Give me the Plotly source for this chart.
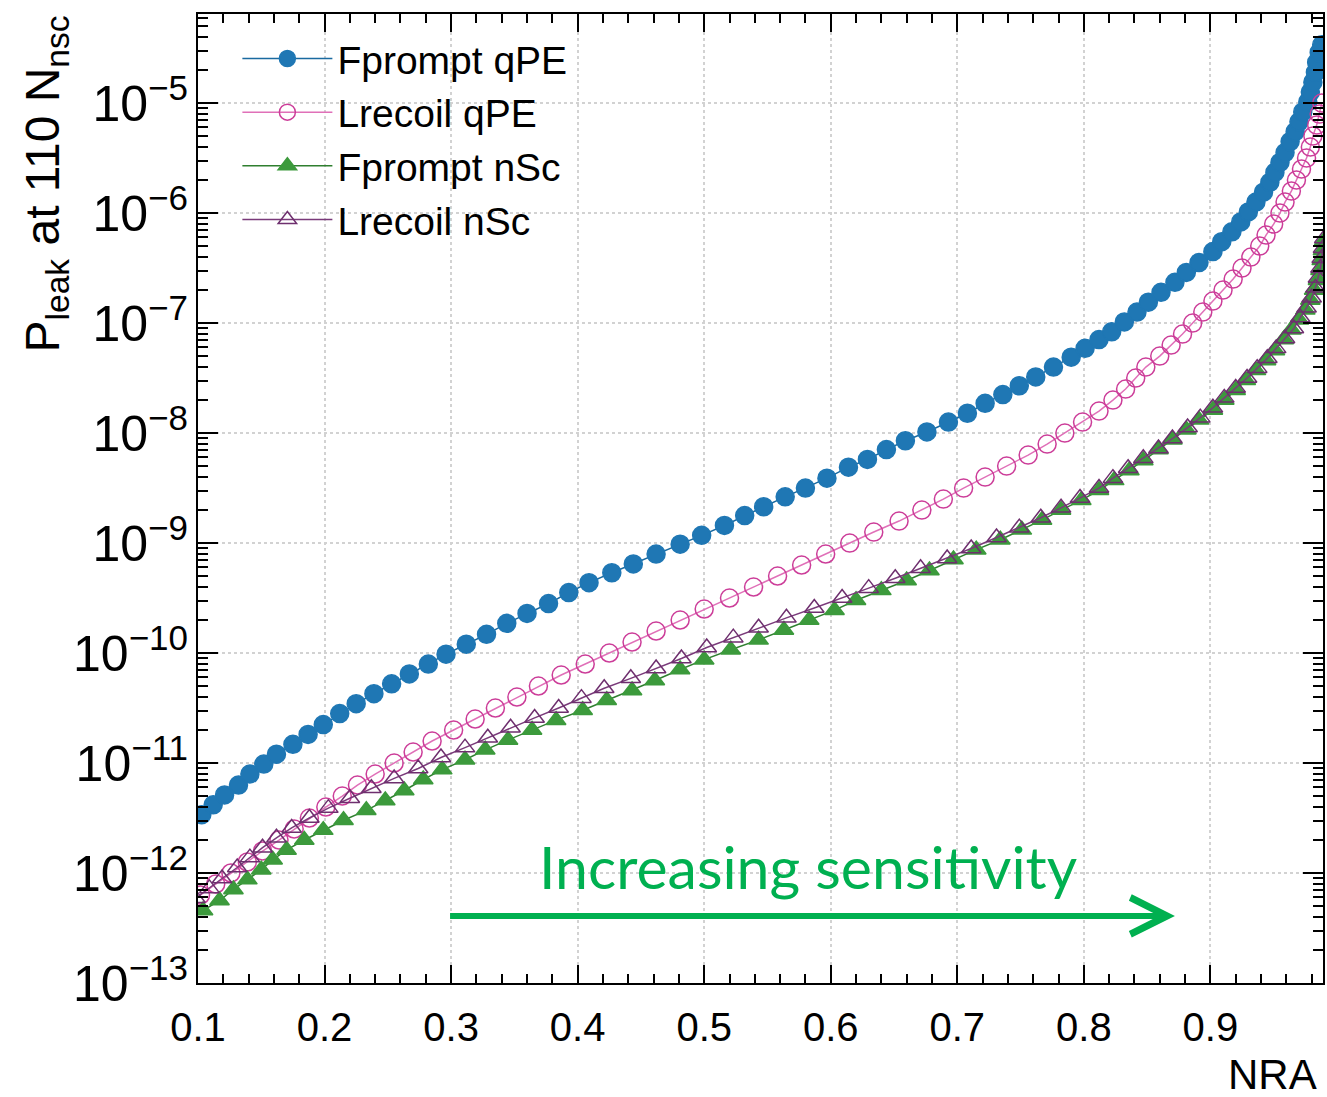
import plotly.graph_objects as go

# ---------------- data ----------------
# Fprompt qPE (filled blue circles): NRA and log10(P_leak)
fprompt_qpe_nra = [
    0.103, 0.112, 0.121, 0.132, 0.141, 0.152, 0.162, 0.175, 0.187, 0.199,
    0.212, 0.225, 0.239, 0.253, 0.267, 0.282, 0.296, 0.312, 0.328, 0.344,
    0.360, 0.377, 0.393, 0.409, 0.427, 0.444, 0.462, 0.481, 0.498, 0.516,
    0.532, 0.547, 0.564, 0.580, 0.597, 0.614, 0.629, 0.644, 0.659, 0.676,
    0.693, 0.708, 0.722, 0.736, 0.749, 0.762, 0.776, 0.790, 0.801, 0.812,
    0.822, 0.832, 0.842, 0.851, 0.861, 0.872, 0.881, 0.891, 0.902, 0.909,
    0.917, 0.924, 0.930, 0.936, 0.942, 0.947, 0.951, 0.955, 0.959, 0.963,
    0.967, 0.970, 0.973, 0.977, 0.979, 0.981, 0.983, 0.984, 0.986, 0.988,
]
fprompt_qpe_log10 = [
    -11.47, -11.38, -11.29, -11.20, -11.10, -11.01, -10.92, -10.83, -10.74, -10.65,
    -10.55, -10.46, -10.37, -10.28, -10.19, -10.10, -10.01, -9.92, -9.83, -9.73,
    -9.64, -9.55, -9.45, -9.36, -9.27, -9.19, -9.10, -9.01, -8.93, -8.84,
    -8.75, -8.67, -8.58, -8.50, -8.41, -8.31, -8.24, -8.15, -8.07, -7.99,
    -7.90, -7.82, -7.73, -7.65, -7.57, -7.49, -7.40, -7.31, -7.23, -7.15,
    -7.08, -6.99, -6.90, -6.81, -6.72, -6.63, -6.54, -6.45, -6.35, -6.26,
    -6.17, -6.08, -5.99, -5.90, -5.81, -5.72, -5.63, -5.54, -5.45, -5.35,
    -5.26, -5.17, -5.08, -4.99, -4.90, -4.81, -4.72, -4.63, -4.54, -4.47,
]

# Lrecoil qPE (open pink circles)
lrecoil_qpe_nra = [
    0.102, 0.114, 0.126, 0.139, 0.151, 0.164, 0.176, 0.188, 0.201, 0.214,
    0.226, 0.240, 0.255, 0.270, 0.285, 0.302, 0.319, 0.335, 0.352, 0.369,
    0.387, 0.406, 0.425, 0.443, 0.462, 0.481, 0.500, 0.520, 0.539, 0.558,
    0.577, 0.596, 0.615, 0.634, 0.654, 0.672, 0.689, 0.705, 0.722, 0.739,
    0.756, 0.771, 0.785, 0.799, 0.812, 0.823, 0.833, 0.841, 0.849, 0.860,
    0.869, 0.878, 0.886, 0.894, 0.902, 0.910, 0.918, 0.925, 0.932, 0.939,
    0.944, 0.950, 0.955, 0.959, 0.964, 0.968, 0.972, 0.976, 0.979, 0.981,
    0.984, 0.986, 0.988,
]
lrecoil_qpe_log10 = [
    -12.20, -12.10, -12.00, -11.90, -11.80, -11.70, -11.60, -11.50, -11.40, -11.30,
    -11.20, -11.10, -11.00, -10.90, -10.80, -10.70, -10.60, -10.50, -10.40, -10.30,
    -10.20, -10.10, -10.00, -9.90, -9.80, -9.70, -9.60, -9.50, -9.40, -9.30,
    -9.20, -9.10, -9.00, -8.90, -8.80, -8.70, -8.60, -8.50, -8.40, -8.30,
    -8.20, -8.10, -8.00, -7.90, -7.80, -7.70, -7.60, -7.50, -7.40, -7.30,
    -7.20, -7.10, -7.00, -6.90, -6.80, -6.70, -6.60, -6.50, -6.40, -6.30,
    -6.20, -6.10, -6.00, -5.90, -5.80, -5.70, -5.60, -5.50, -5.40, -5.30,
    -5.20, -5.10, -5.00,
]

# Fprompt nSc (filled green triangles)
fprompt_nsc_nra = [
    0.104, 0.117, 0.128, 0.139, 0.150, 0.159, 0.170, 0.184, 0.199, 0.215,
    0.233, 0.248, 0.263, 0.278, 0.293, 0.311, 0.327, 0.345, 0.364, 0.383,
    0.404, 0.423, 0.443, 0.461, 0.481, 0.500, 0.521, 0.543, 0.563, 0.583,
    0.603, 0.620, 0.640, 0.660, 0.678, 0.697, 0.715, 0.734, 0.751, 0.767,
    0.782, 0.798, 0.812, 0.824, 0.836, 0.847, 0.859, 0.870, 0.881, 0.891,
    0.902, 0.911, 0.920, 0.928, 0.936, 0.944, 0.951, 0.958, 0.964, 0.970,
    0.975, 0.979, 0.982, 0.985, 0.987, 0.988, 0.989, 0.990,
]
fprompt_nsc_log10 = [
    -12.34, -12.25, -12.15, -12.06, -11.97, -11.88, -11.79, -11.70, -11.61, -11.52,
    -11.43, -11.34, -11.25, -11.15, -11.06, -10.97, -10.88, -10.79, -10.70, -10.61,
    -10.52, -10.43, -10.34, -10.25, -10.15, -10.06, -9.97, -9.88, -9.79, -9.70,
    -9.61, -9.52, -9.43, -9.34, -9.25, -9.15, -9.06, -8.97, -8.88, -8.79,
    -8.70, -8.61, -8.52, -8.43, -8.34, -8.25, -8.15, -8.06, -7.97, -7.88,
    -7.79, -7.70, -7.61, -7.52, -7.43, -7.34, -7.25, -7.15, -7.06, -6.97,
    -6.88, -6.79, -6.70, -6.61, -6.52, -6.43, -6.34, -6.25,
]

# Lrecoil nSc (open purple triangles)
lrecoil_nsc_nra = [
    0.098, 0.109, 0.119, 0.131, 0.141, 0.151, 0.162, 0.174, 0.188, 0.203,
    0.220, 0.237, 0.255, 0.274, 0.292, 0.311, 0.329, 0.347, 0.366, 0.385,
    0.403, 0.421, 0.442, 0.462, 0.482, 0.502, 0.523, 0.543, 0.565, 0.587,
    0.609, 0.630, 0.651, 0.671, 0.692, 0.711, 0.731, 0.749, 0.766, 0.782,
    0.797, 0.812, 0.823, 0.835, 0.847, 0.859, 0.870, 0.882, 0.892, 0.902,
    0.911, 0.920, 0.929, 0.937, 0.945, 0.952, 0.959, 0.966, 0.971, 0.976,
    0.980, 0.983, 0.985, 0.987, 0.988, 0.989, 0.990,
]
lrecoil_nsc_log10 = [
    -12.23, -12.14, -12.05, -11.95, -11.86, -11.77, -11.68, -11.59, -11.50, -11.41,
    -11.32, -11.23, -11.14, -11.05, -10.95, -10.86, -10.77, -10.68, -10.59, -10.50,
    -10.41, -10.32, -10.23, -10.14, -10.05, -9.95, -9.86, -9.77, -9.68, -9.59,
    -9.50, -9.41, -9.32, -9.23, -9.14, -9.05, -8.95, -8.86, -8.77, -8.68,
    -8.59, -8.50, -8.41, -8.32, -8.23, -8.14, -8.05, -7.95, -7.86, -7.77,
    -7.68, -7.59, -7.50, -7.41, -7.32, -7.23, -7.14, -7.05, -6.95, -6.86,
    -6.77, -6.68, -6.59, -6.50, -6.41, -6.32, -6.23,
]

series_names = ["Fprompt qPE", "Lrecoil qPE", "Fprompt nSc", "Lrecoil nSc"]

# ---------------- figure ----------------
styles = [
    dict(symbol="circle", mcolor="#1f77b4", lcolor="#1a6aa0", size=18),
    dict(symbol="circle-open", mcolor="#cc3d99", lcolor="#e070b8", size=18),
    dict(symbol="triangle-up", mcolor="#3c9a3c", lcolor="#2f7f2f", size=17),
    dict(symbol="triangle-up-open", mcolor="#6e2f6e", lcolor="#7a3a7a", size=17),
]
xs = [fprompt_qpe_nra, lrecoil_qpe_nra, fprompt_nsc_nra, lrecoil_nsc_nra]
ls = [fprompt_qpe_log10, lrecoil_qpe_log10, fprompt_nsc_log10, lrecoil_nsc_log10]

fig = go.Figure()
for name, x, lg, st in zip(series_names, xs, ls, styles):
    fig.add_trace(go.Scatter(
        x=x, y=[10 ** v for v in lg], mode="lines+markers", name=name,
        line=dict(color=st["lcolor"], width=1.5),
        marker=dict(symbol=st["symbol"], size=st["size"], color=st["mcolor"],
                    line=dict(color=st["mcolor"], width=1.5)),
    ))

fig.update_layout(
    width=1327, height=1097,
    margin=dict(l=198, r=2, t=14, b=114),
    paper_bgcolor="white", plot_bgcolor="white",
    font=dict(family="Liberation Sans, Arial, sans-serif", color="black"),
    showlegend=True,
    legend=dict(x=0.035, y=0.987, xanchor="left", yanchor="top",
                font=dict(size=39), bgcolor="rgba(0,0,0,0)", itemwidth=90,
                tracegroupgap=0),
)

fig.update_xaxes(
    range=[0.1, 0.989], tick0=0.1, dtick=0.1,
    ticks="inside", ticklen=18, tickwidth=1.5, tickcolor="black",
    showline=True, linecolor="black", linewidth=2, mirror="ticks",
    showgrid=True, gridcolor="#d2d2d2", griddash="dot", gridwidth=1.5,
    zeroline=False, tickfont=dict(size=40), ticklabelstandoff=8,
    minor=dict(dtick=0.02, ticks="inside", ticklen=9, tickcolor="black",
               tickwidth=1.5, showgrid=False),
)
fig.update_yaxes(
    type="log", range=[-13, -4.19], dtick=1, exponentformat="power",
    showexponent="all",
    ticks="inside", ticklen=20, tickwidth=1.5, tickcolor="black",
    showline=True, linecolor="black", linewidth=2, mirror="ticks",
    showgrid=True, gridcolor="#d2d2d2", griddash="dot", gridwidth=1.5,
    zeroline=False, tickfont=dict(size=40),
    minor=dict(dtick="D1", ticks="inside", ticklen=10, tickcolor="black",
               tickwidth=1.5, showgrid=False),
)

green = "#00b050"
fig.add_annotation(
    x=0.872, y=-12.39, ax=0.298, ay=-12.39, xref="x", yref="y",
    axref="x", ayref="y", text="", showarrow=True, arrowhead=5,
    arrowwidth=6, arrowsize=1.2, arrowcolor=green, standoff=0,
)
fig.add_annotation(
    x=0.582, y=-11.94, xref="x", yref="y", text="Increasing sensitivity",
    showarrow=False, font=dict(family="Lato, Open Sans, sans-serif", size=59, color=green),
)
fig.add_annotation(
    x=0.996, y=-0.094, xref="paper", yref="paper", xanchor="right", yanchor="middle",
    text="NRA", showarrow=False, font=dict(size=42),
)
fig.add_annotation(
    x=-0.136, y=1.0, xref="paper", yref="paper", xanchor="center", yanchor="top",
    text="P<sub>leak</sub> at 110 N<sub>nsc</sub>", textangle=-90,
    showarrow=False, font=dict(size=48),
)

fig.write_html("out.html")
